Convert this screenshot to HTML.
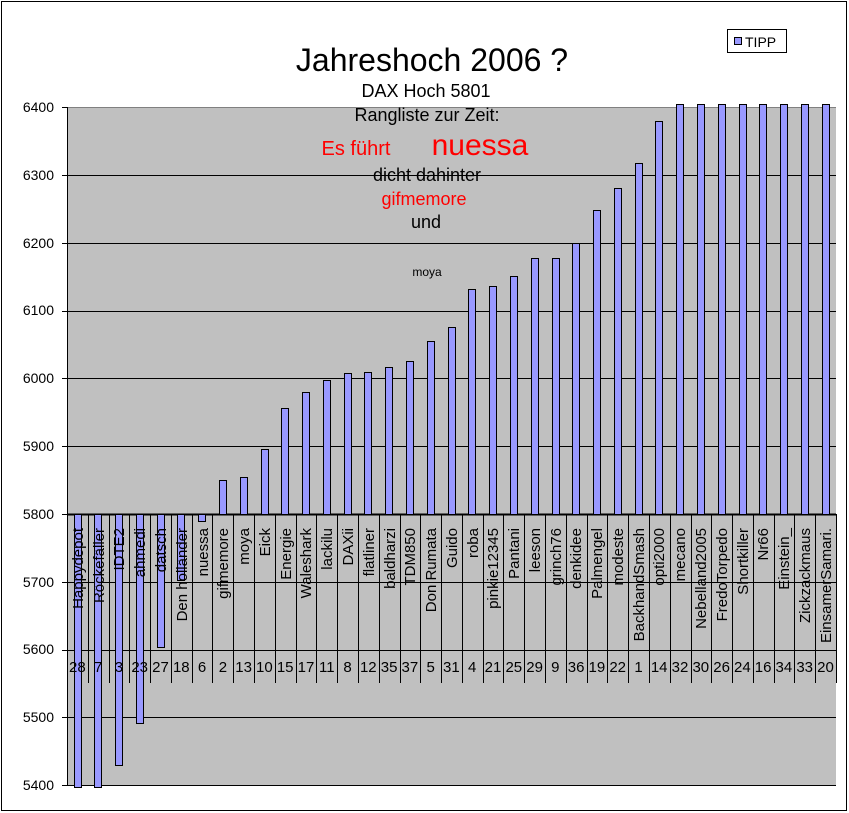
<!DOCTYPE html>
<html><head><meta charset="utf-8"><style>
body{margin:0;background:#fff}
svg{display:block;font-family:"Liberation Sans",Arial,sans-serif}
</style></head><body>
<svg id="s" width="849" height="813" viewBox="0 0 849 813" xmlns="http://www.w3.org/2000/svg">
<rect x="1.5" y="1.5" width="845" height="809" fill="#fff" stroke="#000" stroke-width="1"/>
<rect x="67" y="107" width="769" height="678" fill="#c0c0c0"/>
<g id="grid"></g>
<g id="bars"></g>
<g font-size="14" text-anchor="end" fill="#000">
<text x="54" y="112">6400</text><text x="54" y="180">6300</text><text x="54" y="248">6200</text><text x="54" y="315">6100</text><text x="54" y="383">6000</text><text x="54" y="451">5900</text><text x="54" y="519">5800</text><text x="54" y="587">5700</text><text x="54" y="654">5600</text><text x="54" y="722">5500</text><text x="54" y="790">5400</text>
</g>
<g font-size="15" text-anchor="end" fill="#000">
<text transform="translate(83,528) rotate(-90)">Happydepot</text>
<text transform="translate(104,528) rotate(-90)">Röckefäller</text>
<text transform="translate(124,528) rotate(-90)">IDTE2</text>
<text transform="translate(145,528) rotate(-90)">ahmedi</text>
<text transform="translate(166,528) rotate(-90)">datsch</text>
<text transform="translate(187,528) rotate(-90)">Den holländer</text>
<text transform="translate(208,528) rotate(-90)">nuessa</text>
<text transform="translate(228,528) rotate(-90)">gifmemore</text>
<text transform="translate(249,528) rotate(-90)">moya</text>
<text transform="translate(270,528) rotate(-90)">Eick</text>
<text transform="translate(291,528) rotate(-90)">Energie</text>
<text transform="translate(311,528) rotate(-90)">Waleshark</text>
<text transform="translate(332,528) rotate(-90)">lackilu</text>
<text transform="translate(353,528) rotate(-90)">DAXii</text>
<text transform="translate(374,528) rotate(-90)">flatliner</text>
<text transform="translate(395,528) rotate(-90)">baldharzi</text>
<text transform="translate(415,528) rotate(-90)">TDM850</text>
<text transform="translate(436,528) rotate(-90)">Don Rumata</text>
<text transform="translate(457,528) rotate(-90)">Guido</text>
<text transform="translate(478,528) rotate(-90)">roba</text>
<text transform="translate(498,528) rotate(-90)">pinkie12345</text>
<text transform="translate(519,528) rotate(-90)">Pantani</text>
<text transform="translate(540,528) rotate(-90)">leeson</text>
<text transform="translate(561,528) rotate(-90)">grinch76</text>
<text transform="translate(581,528) rotate(-90)">denkidee</text>
<text transform="translate(602,528) rotate(-90)">Palmengel</text>
<text transform="translate(623,528) rotate(-90)">modeste</text>
<text transform="translate(644,528) rotate(-90)">BackhandSmash</text>
<text transform="translate(664,528) rotate(-90)">opti2000</text>
<text transform="translate(685,528) rotate(-90)">mecano</text>
<text transform="translate(706,528) rotate(-90)">Nebelland2005</text>
<text transform="translate(727,528) rotate(-90)">FredoTorpedo</text>
<text transform="translate(748,528) rotate(-90)">Shortkiller</text>
<text transform="translate(768,528) rotate(-90)">Nr66</text>
<text transform="translate(789,528) rotate(-90)">Einstein_</text>
<text transform="translate(810,528) rotate(-90)">Zickzackmaus</text>
<text transform="translate(831,528) rotate(-90)">EinsamerSamari.</text>
</g>
<g font-size="15" text-anchor="middle" fill="#000">
<text x="77.4" y="672">28</text><text x="98.2" y="672">7</text><text x="118.9" y="672">3</text><text x="139.7" y="672">23</text><text x="160.5" y="672">27</text><text x="181.3" y="672">18</text><text x="202.1" y="672">6</text><text x="222.9" y="672">2</text><text x="243.6" y="672">13</text><text x="264.4" y="672">10</text><text x="285.2" y="672">15</text><text x="306" y="672">17</text><text x="326.8" y="672">11</text><text x="347.5" y="672">8</text><text x="368.3" y="672">12</text><text x="389.1" y="672">35</text><text x="409.9" y="672">37</text><text x="430.7" y="672">5</text><text x="451.4" y="672">31</text><text x="472.2" y="672">4</text><text x="493" y="672">21</text><text x="513.8" y="672">25</text><text x="534.6" y="672">29</text><text x="555.3" y="672">9</text><text x="576.1" y="672">36</text><text x="596.9" y="672">19</text><text x="617.7" y="672">22</text><text x="638.5" y="672">1</text><text x="659.2" y="672">14</text><text x="680" y="672">32</text><text x="700.8" y="672">30</text><text x="721.6" y="672">26</text><text x="742.4" y="672">24</text><text x="763.1" y="672">16</text><text x="783.9" y="672">34</text><text x="804.7" y="672">33</text><text x="825.5" y="672">20</text>
</g>
<g text-anchor="middle">
<text x="432" y="71" font-size="32">Jahreshoch 2006 ?</text>
<text x="426" y="97" font-size="18">DAX Hoch 5801</text>
<text x="427" y="121" font-size="18">Rangliste zur Zeit:</text>
<text x="356" y="155" font-size="20" fill="#ff0000">Es führt</text>
<text x="480" y="155" font-size="30" fill="#ff0000">nuessa</text>
<text x="427" y="181" font-size="18">dicht dahinter</text>
<text x="424" y="205" font-size="18" fill="#ff0000">gifmemore</text>
<text x="426" y="228" font-size="18">und</text>
<text x="427" y="276" font-size="12">moya</text>
</g>
<rect x="727.5" y="29.5" width="59" height="23" fill="#fff" stroke="#000"/>
<rect x="734.5" y="37.5" width="7" height="7" fill="#9999ff" stroke="#000"/>
<text x="745" y="47" font-size="14">TIPP</text>
</svg>
<script>
(function(){
var NS="http://www.w3.org/2000/svg";
function el(p,t,a){var e=document.createElementNS(NS,t);for(var k in a)e.setAttribute(k,a[k]);p.appendChild(e);return e;}
var g=document.getElementById("grid"),b=document.getElementById("bars");
function Y(v){return 514-(v-5800)*0.678;}
for(var v=5400;v<=6400;v+=100){var y=Math.round(Y(v))+0.5;
 el(g,"line",{x1:62,x2:836,y1:y,y2:y,stroke:v==6400?"#808080":"#000"});
 el(g,"line",{x1:62,x2:67,y1:y,y2:y,stroke:"#000"});}
el(g,"line",{x1:67.5,x2:67.5,y1:107,y2:785,stroke:"#000"});
var w=769/37;
for(var i=0;i<=37;i++){var x=Math.round(67+i*w)+0.5;el(g,"line",{x1:x,x2:x,y1:514,y2:683,stroke:"#000"});}
el(g,"line",{x1:67,x2:836,y1:514.5,y2:514.5,stroke:"#000","stroke-width":2});
var vals=[5398,5398,5430,5492,5604,5703,5790,5850,5855,5896,5957,5980,5998,6008,6010,6017,6026,6055,6076,6132,6136,6151,6178,6178,6200,6249,6281,6318,6380,6405,6405,6405,6405,6405,6405,6405,6405];
for(var i=0;i<37;i++){var x=Math.round(67+i*w+6.5)+0.5,yy=Y(vals[i]);
 var t=Math.min(514,yy),h=Math.abs(yy-514);
 el(b,"rect",{x:x,y:Math.round(t)+0.5,width:7,height:Math.round(h),fill:"#9999ff",stroke:"#000"});}
})();
</script>
</body></html>
